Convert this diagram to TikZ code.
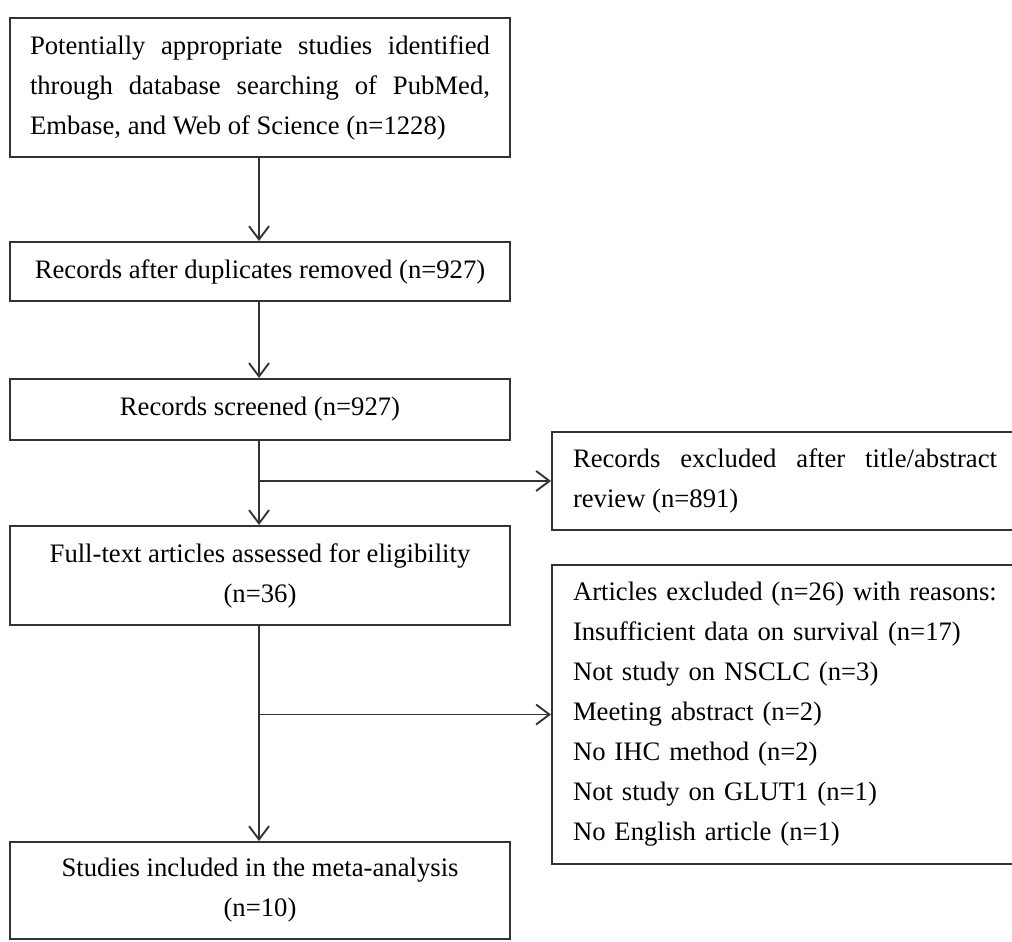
\documentclass[tikz,border=0pt]{standalone}
\usepackage{fontspec}
\setmainfont{Liberation Serif}
\usetikzlibrary{arrows.meta}
\newcommand{\nohyph}{\hyphenpenalty=10000\relax\exhyphenpenalty=10000\relax}
\begin{document}
\begin{tikzpicture}[x=0.75pt,y=-0.75pt,
  every node/.style={font=\fontsize{20pt}{30pt}\selectfont\nohyph, text=black},
  box/.style={draw=black!80, line width=1.5pt, rectangle, inner ysep=0pt, inner xsep=15pt, minimum width=375pt, align=center},
  rbox/.style={draw=black!80, line width=1.5pt, rectangle, inner ysep=0pt, inner xsep=15.75pt, minimum width=349.5pt, text width=318pt},
  conn/.style={draw=black!80, line width=1.4pt},
  arr/.style={conn, -{Straight Barb[length=10pt, width=15pt, line width=1.4pt]}}
]
\useasboundingbox (0,0) rectangle (1012,941);
\node[box, minimum height=104.25pt, text width=345pt, align=justify] (b1) at (260,87.5)
  {Potentially appropriate studies identified through database searching of PubMed, Embase, and Web of Science (n=1228)};
\node[box, minimum height=44.25pt] (b2) at (260,271.5) {Records after duplicates removed (n=927)};
\node[box, minimum height=45.75pt] (b3) at (260,409.5) {Records screened (n=927)};
\node[box, minimum height=74.25pt] (b4) at (260,575.5) {Full-text articles assessed for eligibility\\(n=36)};
\node[box, minimum height=72.75pt] (b5) at (260,890.5) {Studies included in the meta-analysis\\(n=10)};
\node[rbox, minimum height=73.5pt, align=justify] (r1) at (785,481)
  {Records excluded after title/abstract review (n=891)};
\node[rbox, minimum height=224.25pt, align=left] (r2) at (785,714.5)
  {Articles excluded (n=26) with reasons:\\Insufficient data on survival (n=17)\\Not study on NSCLC (n=3)\\Meeting abstract (n=2)\\No IHC method (n=2)\\Not study on GLUT1 (n=1)\\No English article (n=1)};
\coordinate (j1) at (259,481);
\coordinate (j2) at (259,714.5);
\draw[arr] (b1.south -| 259,0) -- (b2.north -| 259,0);
\draw[arr] (b2.south -| 259,0) -- (b3.north -| 259,0);
\draw[arr] (b3.south -| 259,0) -- (b4.north -| 259,0);
\draw[arr] (b4.south -| 259,0) -- (b5.north -| 259,0);
\draw[arr] (j1) -- (j1 -| r1.west);
\draw[arr] (j2) -- (j2 -| r2.west);
\end{tikzpicture}
\end{document}
